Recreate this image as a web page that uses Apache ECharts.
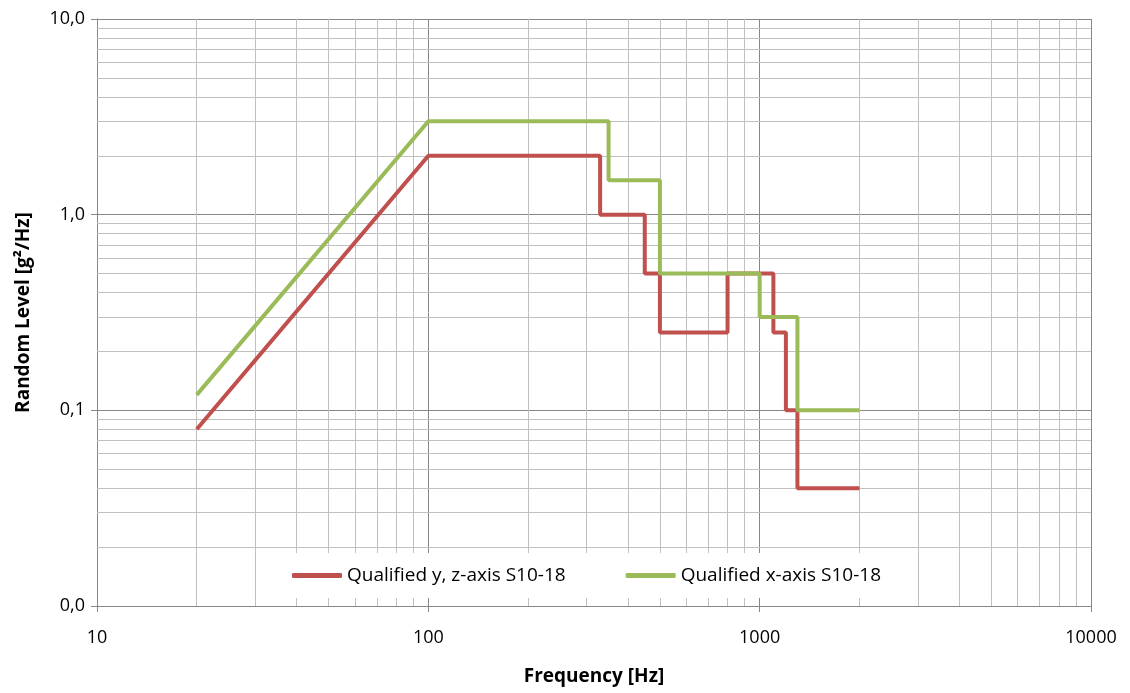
<!DOCTYPE html>
<html>
<head>
<meta charset="utf-8">
<script src="https://cdn.jsdelivr.net/npm/echarts@6/dist/echarts.min.js"></script>
<style>
  html, body { margin: 0; padding: 0; background: #fff; }
  #chart { width: 1130px; height: 693px; }
</style>
</head>
<body>
<div id="chart"></div>
<script>
// ---- data ----
const redName = 'Qualified y, z-axis S10-18';
const redFreq  = [20, 100, 330, 330, 450, 450, 500, 500, 800, 800, 1100, 1100, 1200, 1200, 1300, 1300, 2000];
const redLevel = [0.08, 2, 2, 1, 1, 0.5, 0.5, 0.25, 0.25, 0.5, 0.5, 0.25, 0.25, 0.1, 0.1, 0.04, 0.04];

const greenName = 'Qualified x-axis S10-18';
const greenFreq  = [20, 100, 350, 350, 500, 500, 1000, 1000, 1300, 1300, 2000];
const greenLevel = [0.12, 3, 3, 1.5, 1.5, 0.5, 0.5, 0.3, 0.3, 0.1, 0.1];

// axis ranges and grid lines
const xMin = 10, xMax = 10000;
const yMin = 0.01, yMax = 10;
const xMinorGrid = [20, 30, 40, 50, 60, 70, 80, 90,
                    200, 300, 400, 500, 600, 700, 800, 900,
                    2000, 3000, 4000, 5000, 6000, 7000, 8000, 9000];
const yMinorGrid = [0.02, 0.03, 0.04, 0.05, 0.06, 0.07, 0.08, 0.09,
                    0.2, 0.3, 0.4, 0.5, 0.6, 0.7, 0.8, 0.9,
                    2, 3, 4, 5, 6, 7, 8, 9];

const pairs = (xs, ys) => xs.map((x, i) => [x, ys[i]]);

const FONT = 'Open Sans';
const majorColor = '#878787';
const minorColor = '#c0c0c0';

const chart = echarts.init(document.getElementById('chart'), null, { renderer: 'canvas' });

const minorLines = xMinorGrid.map(v => ({ xAxis: v }))
  .concat(yMinorGrid.map(v => ({ yAxis: v })));

chart.setOption({
  animation: false,
  backgroundColor: '#fff',
  textStyle: { fontFamily: FONT },
  grid: { left: 97, right: 39, top: 19, bottom: 87, containLabel: false },
  legend: {
    data: [
      { name: redName, icon: 'roundRect' },
      { name: greenName, icon: 'roundRect' }
    ],
    left: 256,
    top: 553,
    padding: [13, 28, 13, 36],
    itemGap: 60,
    itemWidth: 50,
    itemHeight: 5,
    backgroundColor: '#ffffff',
    textStyle: { fontFamily: FONT, fontSize: 19, color: '#000' }
  },
  xAxis: {
    type: 'log',
    logBase: 10,
    min: xMin,
    max: xMax,
    name: 'Frequency [Hz]',
    nameLocation: 'middle',
    nameGap: 61,
    nameTextStyle: { fontFamily: FONT, fontSize: 19, fontWeight: 'bold', color: '#000' },
    axisLine: { show: true, lineStyle: { color: majorColor, width: 1 } },
    axisTick: { show: true, length: 6, lineStyle: { color: majorColor } },
    axisLabel: {
      fontFamily: FONT, fontSize: 18, color: '#000', margin: 23,
      formatter: v => String(Math.round(v))
    },
    splitLine: { show: true, lineStyle: { color: majorColor, width: 1 } }
  },
  yAxis: {
    type: 'log',
    logBase: 10,
    min: yMin,
    max: yMax,
    name: 'Random Level [g²/Hz]',
    nameLocation: 'middle',
    nameRotate: 90,
    nameGap: 64,
    nameTextStyle: { fontFamily: FONT, fontSize: 19, fontWeight: 'bold', color: '#000' },
    axisLine: { show: true, lineStyle: { color: majorColor, width: 1 } },
    axisTick: { show: true, length: 6, lineStyle: { color: majorColor } },
    axisLabel: {
      fontFamily: FONT, fontSize: 18, color: '#000', margin: 12,
      formatter: v => v.toFixed(1).replace('.', ',')
    },
    splitLine: { show: true, lineStyle: { color: majorColor, width: 1 } }
  },
  series: [
    {
      name: 'minor-grid',
      type: 'line',
      data: [],
      z: 1,
      silent: true,
      markLine: {
        silent: true,
        z: 1,
        symbol: ['none', 'none'],
        label: { show: false },
        lineStyle: { color: minorColor, width: 1, type: 'solid' },
        emphasis: { disabled: true },
        animation: false,
        data: minorLines
      }
    },
    {
      name: redName,
      type: 'line',
      data: pairs(redFreq, redLevel),
      showSymbol: false,
      symbol: 'none',
      z: 3,
      itemStyle: { color: '#c0504d' },
      lineStyle: { color: '#c0504d', width: 4 }
    },
    {
      name: greenName,
      type: 'line',
      data: pairs(greenFreq, greenLevel),
      showSymbol: false,
      symbol: 'none',
      z: 4,
      itemStyle: { color: '#9bbb59' },
      lineStyle: { color: '#9bbb59', width: 4 }
    }
  ]
});
</script>
</body>
</html>
